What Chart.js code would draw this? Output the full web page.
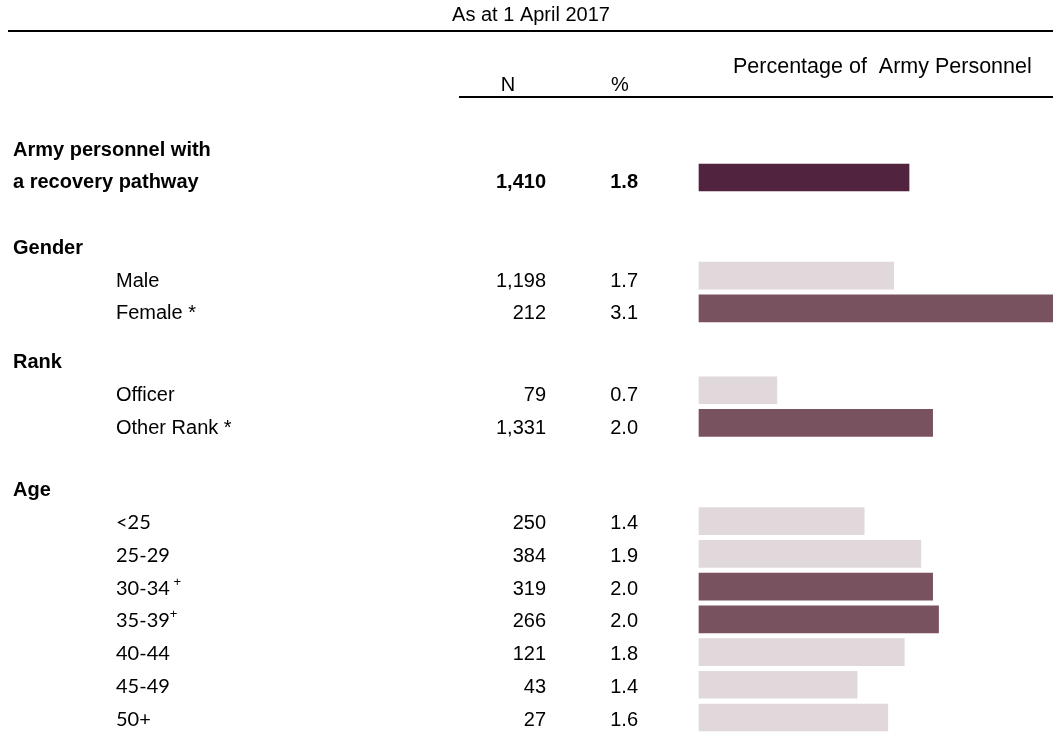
<!DOCTYPE html>
<html>
<head>
<meta charset="utf-8">
<title>Army personnel with a recovery pathway</title>
<script src="https://cdn.jsdelivr.net/npm/chart.js@4"></script>
<style>
  body { margin: 0; background: #ffffff; }
  #wrap { width: 1053px; height: 732px; }
</style>
</head>
<body>
<div id="wrap"><canvas id="chart" width="1053" height="732"></canvas></div>
<script>
// Table rows (one bar per row)
const rowLabels = [
  "a recovery pathway",
  "Male",
  "Female *",
  "Officer",
  "Other Rank *",
  "<25",
  "25-29",
  "30-34",
  "35-39",
  "40-44",
  "45-49",
  "50+",
];
const countN = ["1,410", "1,198", "212", "79", "1,331", "250", "384", "319", "266", "121", "43", "27"];
const percentText = ["1.8", "1.7", "3.1", "0.7", "2.0", "1.4", "1.9", "2.0", "2.0", "1.8", "1.4", "1.6"];
// Bar lengths (unrounded percentages)
const barValues = [1.78, 1.65, 3.1, 0.66, 1.98, 1.4, 1.88, 1.98, 2.03, 1.74, 1.34, 1.6];
// "total", "sig" (significant difference) or "ns"
const rowType = ["total", "ns", "sig", "ns", "sig", "ns", "ns", "sig", "sig", "ns", "ns", "ns"];
const groupHeaders = ["Gender", "Rank", "Age"];
const rowSuperscript = ["", "", "", "", "", "", "", " +", "+", "", "", ""];

// Layout: half-row slots on the category axis
const rowSlots = [0, 6, 8, 13, 15, 21, 23, 25, 27, 29, 31, 33];
const headerSlots = [4, 11, 18.8];
const SLOT_COUNT = 34;

const colors = {
  total: "#51233e",
  sig: "#78525f",
  ns: "#e0d8da",
};

const FONT = "'Liberation Sans', Arial, sans-serif";
const AGE_FONT = "Lato, 'Liberation Sans', sans-serif";

// Build slot-based labels and data
const slotLabels = [];
const slotData = [];
const slotColors = [];
for (let i = 0; i < SLOT_COUNT; i++) {
  slotLabels.push("");
  slotData.push(null);
  slotColors.push("#ffffff");
}
rowSlots.forEach((slot, i) => {
  slotLabels[slot] = rowLabels[i];
  slotData[slot] = barValues[i];
  slotColors[slot] = colors[rowType[i]];
});

// Plugin that draws the table text and rules
const tablePlugin = {
  id: "tableText",
  afterDraw(chart) {
    const ctx = chart.ctx;
    const yScale = chart.scales.y;
    const baseOffset = 11;
    const labelX = 116;
    const nRight = 546;
    const pctRight = 638;
    ctx.save();
    ctx.fillStyle = "#000000";
    ctx.textBaseline = "alphabetic";

    // Top rules
    ctx.strokeStyle = "#000000";
    ctx.lineWidth = 2;
    ctx.beginPath();
    ctx.moveTo(8, 31);
    ctx.lineTo(1053, 31);
    ctx.moveTo(459, 97);
    ctx.lineTo(1053, 97);
    ctx.stroke();

    // Column headers
    ctx.font = "20px " + FONT;
    ctx.textAlign = "center";
    ctx.fillText("As at 1 April 2017", 531, 21);
    ctx.fillText("N", 508, 91);
    ctx.fillText("%", 620, 91);
    ctx.textAlign = "left";
    ctx.font = "21.5px " + FONT;
    ctx.fillText("Percentage of  Army Personnel", 733, 73);

    // Group headers
    ctx.font = "bold 20px " + FONT;
    ctx.textAlign = "left";
    ctx.fillText("Army personnel with", 13, yScale.getPixelForValue(-2) + baseOffset);
    groupHeaders.forEach((h, i) => {
      ctx.fillText(h, 13, yScale.getPixelForValue(headerSlots[i]) + baseOffset);
    });

    // Rows
    rowSlots.forEach((slot, i) => {
      const isTotal = rowType[i] === "total";
      const isAge = i >= 5;
      const y = yScale.getPixelForValue(slot) + (isAge ? 8 : baseOffset);
      ctx.textAlign = "left";
      if (isTotal) {
        ctx.font = "bold 20px " + FONT;
        ctx.fillText(rowLabels[i], 13, y);
      } else {
        ctx.font = "20px " + (isAge ? AGE_FONT : FONT);
        ctx.fillText(rowLabels[i], labelX, y);
        if (rowSuperscript[i]) {
          const w = ctx.measureText(rowLabels[i]).width;
          ctx.font = "13px " + FONT;
          ctx.fillText(rowSuperscript[i], labelX + w, y - 9);
        }
      }
      ctx.font = (isTotal ? "bold " : "") + "20px " + FONT;
      ctx.textAlign = "right";
      ctx.fillText(countN[i], nRight, y);
      ctx.fillText(percentText[i], pctRight, y);
    });
    ctx.restore();
  },
};

const ctx = document.getElementById("chart").getContext("2d");
new Chart(ctx, {
  type: "bar",
  data: {
    labels: slotLabels,
    datasets: [
      {
        label: "Percentage of Army Personnel",
        data: slotData,
        backgroundColor: slotColors,
        borderWidth: 0,
        barThickness: 27,
        clip: false,
      },
    ],
  },
  options: {
    indexAxis: "y",
    responsive: false,
    animation: false,
    devicePixelRatio: 1,
    layout: {
      padding: { left: 699, right: 0, top: 169.3, bottom: 6.3 },
    },
    scales: {
      x: { display: false, min: 0, max: 3 },
      y: { display: false },
    },
    plugins: {
      legend: { display: false },
      tooltip: { enabled: false },
    },
  },
  plugins: [tablePlugin],
});
</script>
</body>
</html>
